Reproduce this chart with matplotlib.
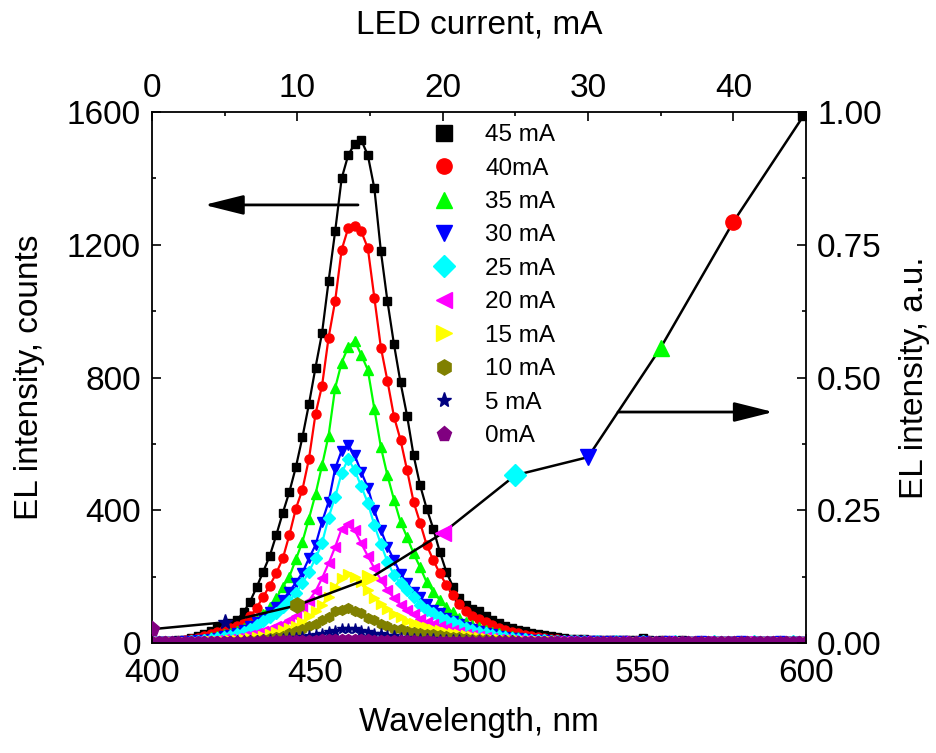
import numpy as np
import matplotlib
matplotlib.use("Agg")
import matplotlib.pyplot as plt
from matplotlib.lines import Line2D
from matplotlib.ticker import MultipleLocator

plt.rcParams['font.family'] = ['Liberation Sans', 'DejaVu Sans']

# ---------------- data ----------------
wavelength = np.arange(400, 601, 2)

s45 = [4, 5, 5, 6, 8, 10, 14, 20, 27, 36,
       45, 52, 60, 70, 92, 125, 168, 215, 262, 325,
       392, 455, 530, 620, 720, 830, 934, 1090, 1240, 1400,
       1470, 1505, 1515, 1470, 1370, 1180, 1030, 900, 785, 685,
       565, 475, 405, 345, 275, 215, 170, 135, 115, 103,
       95, 80, 69, 60, 52, 46, 40, 35, 30, 26,
       23, 20, 18, 15, 13, 12, 11, 10, 10, 9,
       9, 8, 8, 9, 8, 15, 8, 7, 8, 7,
       7, 8, 7, 6, 7, 7, 6, 7, 6, 6,
       7, 6, 6, 7, 6, 6, 5, 6, 6, 5,
       6]
s40 = [4, 4, 5, 6, 7, 9, 12, 16, 21, 28,
       34, 40, 46, 52, 60, 80, 106, 139, 173, 210,
       255, 325, 405, 462, 555, 690, 775, 920, 1030, 1185,
       1250, 1255, 1240, 1190, 1040, 890, 790, 682, 612, 521,
       425, 362, 295, 250, 210, 175, 145, 118, 95, 82,
       72, 62, 54, 46, 40, 34, 29, 25, 21, 18,
       15, 13, 12, 10, 9, 8, 8, 7, 7, 7,
       6, 6, 6, 7, 6, 6, 6, 5, 6, 6,
       5, 6, 5, 6, 5, 5, 6, 5, 5, 6,
       5, 5, 5, 6, 5, 5, 5, 5, 6, 5,
       5]
s35 = [3, 3, 4, 4, 5, 6, 8, 10, 13, 17,
       21, 26, 31, 37, 44, 55, 70, 88, 109, 135,
       169, 200, 252, 305, 375, 448, 535, 625, 768, 845,
       892, 910, 868, 823, 705, 590, 505, 432, 365, 319,
       270, 228, 183, 155, 130, 108, 92, 76, 63, 55,
       47, 40, 34, 29, 25, 21, 18, 15, 13, 11,
       10, 9, 8, 7, 7, 6, 6, 6, 5, 5,
       5, 5, 6, 5, 5, 5, 5, 5, 4, 5,
       5, 4, 5, 5, 4, 5, 4, 5, 4, 4,
       5, 4, 4, 5, 4, 4, 4, 5, 4, 4,
       4]
s30 = [3, 3, 3, 4, 4, 5, 6, 8, 10, 13,
       16, 20, 25, 30, 38, 50, 62, 76, 92, 108,
       130, 155, 182, 212, 255, 295, 365, 425, 525, 580,
       597, 565, 515, 468, 400, 340, 290, 250, 208, 180,
       155, 138, 118, 99, 90, 76, 65, 56, 48, 42,
       36, 31, 26, 22, 19, 16, 14, 12, 10, 9,
       8, 7, 6, 6, 5, 5, 5, 5, 5, 4,
       5, 4, 5, 4, 4, 5, 4, 4, 4, 5,
       4, 4, 4, 4, 5, 4, 4, 4, 4, 4,
       5, 4, 4, 4, 4, 4, 5, 4, 4, 4,
       4]
s25 = [3, 3, 3, 3, 4, 4, 5, 7, 9, 11,
       14, 17, 21, 27, 34, 43, 55, 66, 78, 90,
       108, 128, 150, 180, 215, 255, 301, 378, 440, 512,
       555, 520, 472, 422, 355, 298, 245, 205, 180, 160,
       140, 115, 100, 90, 78, 70, 62, 54, 46, 40,
       34, 29, 25, 21, 18, 15, 13, 11, 10, 9,
       8, 7, 6, 6, 5, 5, 5, 4, 5, 4,
       4, 5, 4, 4, 4, 5, 4, 4, 4, 4,
       5, 4, 4, 4, 4, 4, 5, 4, 4, 4,
       4, 4, 5, 4, 4, 4, 4, 4, 5, 4,
       4]
s20 = [2, 2, 3, 3, 3, 4, 4, 5, 6, 7,
       9, 11, 13, 16, 20, 25, 30, 36, 43, 50,
       58, 68, 82, 105, 128, 156, 195, 240, 289, 345,
       360, 340, 300, 262, 225, 190, 160, 135, 116, 99,
       86, 73, 64, 56, 50, 45, 39, 33, 28, 24,
       21, 18, 15, 13, 11, 10, 9, 8, 7, 6,
       6, 5, 5, 5, 5, 4, 5, 4, 4, 4,
       4, 4, 5, 4, 4, 4, 4, 4, 4, 5,
       4, 4, 4, 4, 4, 5, 4, 4, 4, 4,
       4, 5, 4, 4, 4, 4, 4, 4, 4, 4,
       4]
s15 = [2, 2, 2, 2, 3, 3, 3, 4, 4, 5,
       6, 7, 8, 10, 12, 15, 18, 22, 27, 32,
       38, 44, 52, 64, 80, 95, 115, 140, 170, 195,
       208, 200, 185, 160, 135, 118, 102, 88, 78, 67,
       59, 53, 48, 43, 39, 34, 30, 26, 23, 20,
       17, 15, 13, 11, 10, 9, 8, 7, 6, 6,
       5, 5, 5, 4, 4, 4, 4, 4, 4, 3,
       4, 4, 4, 4, 3, 4, 4, 4, 4, 3,
       4, 4, 3, 4, 4, 4, 4, 3, 4, 4,
       4, 3, 4, 4, 4, 4, 3, 4, 4, 4,
       4]
s10 = [2, 2, 2, 2, 2, 3, 3, 3, 3, 4,
       4, 4, 5, 6, 7, 9, 10, 12, 15, 18,
       22, 29, 36, 41, 51, 58, 70, 78, 95, 98,
       106, 97, 90, 76, 70, 56, 52, 43, 41, 35,
       34, 30, 28, 26, 24, 22, 19, 17, 15, 13,
       12, 11, 10, 9, 8, 8, 7, 6, 6, 6,
       5, 5, 5, 4, 4, 4, 4, 4, 4, 4,
       4, 4, 4, 3, 4, 4, 4, 4, 3, 4,
       4, 4, 4, 4, 3, 4, 4, 4, 4, 4,
       3, 4, 4, 4, 4, 3, 4, 4, 4, 4,
       4]
s5 = [2, 2, 2, 2, 2, 2, 3, 3, 3, 3,
      3, 4, 4, 5, 5, 6, 6, 8, 8, 10,
      11, 14, 15, 19, 20, 25, 27, 33, 35, 41,
      42, 41, 35, 33, 27, 26, 21, 20, 16, 16,
      13, 13, 11, 11, 9, 9, 8, 8, 7, 7,
      6, 6, 5, 5, 5, 5, 4, 4, 4, 4,
      4, 4, 4, 3, 4, 3, 4, 3, 4, 3,
      4, 3, 3, 4, 3, 3, 4, 3, 3, 3,
      4, 3, 3, 3, 4, 3, 3, 3, 3, 4,
      3, 3, 3, 4, 3, 3, 3, 3, 3, 4,
      3]
s0 = [6, 7, 6, 7, 6, 7, 6, 7, 7, 6,
      7, 6, 7, 7, 6, 7, 7, 8, 7, 8,
      8, 8, 9, 9, 10, 10, 11, 11, 12, 12,
      12, 12, 11, 11, 10, 10, 9, 9, 8, 8,
      8, 7, 8, 7, 7, 7, 6, 7, 7, 6,
      7, 6, 7, 6, 6, 7, 6, 6, 7, 6,
      6, 7, 6, 6, 7, 6, 6, 6, 7, 6,
      6, 6, 7, 6, 6, 6, 7, 6, 6, 6,
      7, 6, 6, 6, 6, 7, 6, 6, 6, 7,
      6, 6, 6, 7, 6, 6, 6, 6, 7, 6,
      6]

labels = ['45 mA', '40mA', '35 mA', '30 mA', '25 mA',
          '20 mA', '15 mA', '10 mA', '5 mA', '0mA']
spectra = [s45, s40, s35, s30, s25, s20, s15, s10, s5, s0]

currents = [0, 5, 10, 15, 20, 25, 30, 35, 40, 45]
norm_intensity = [0.026, 0.039, 0.071, 0.122, 0.207, 0.316, 0.350, 0.556, 0.793, 1.0]

# ---------------- styles ----------------
colors = ['#000000', '#FF0000', '#00FF00', '#0000FF', '#00FFFF',
          '#FF00FF', '#FFFF00', '#808000', '#000080', '#800080']
markers = ['s', 'o', '^', 'v', 'D', '<', '>', 'h', '*', 'p']
spec_ms = [6, 6.5, 7, 7, 6, 7, 7, 7, 8, 7]

fig = plt.figure(figsize=(9.37, 7.53), dpi=100)
pos = [152 / 937, 1 - 643 / 753, (806 - 152) / 937, (643 - 112) / 753]
ax = fig.add_axes(pos)

for y, c, m, ms in zip(spectra, colors, markers, spec_ms):
    ax.plot(wavelength, y, color=c, marker=m, ms=ms, mec=c, mfc=c, lw=1.6)

ax.set_xlim(400, 600)
ax.set_ylim(0, 1600)
ax.xaxis.set_major_locator(MultipleLocator(50))
ax.xaxis.set_minor_locator(MultipleLocator(25))
ax.yaxis.set_major_locator(MultipleLocator(400))
ax.yaxis.set_minor_locator(MultipleLocator(200))
ax.tick_params(which='both', direction='in', width=1.2, top=False, right=False)
ax.tick_params(which='major', length=6.5, labelsize=24)
ax.tick_params(which='minor', length=3)
ax.tick_params(axis='x', pad=11)
ax.tick_params(axis='y', pad=8)
ax.set_xlabel('Wavelength, nm', fontsize=24, labelpad=13)
ax.set_ylabel('EL intensity, counts', fontsize=24, labelpad=16)
for sp in ax.spines.values():
    sp.set_linewidth(1.3)

# arrows
left_arrow = dict(start=(463, 1320), end=(416, 1320))
right_arrow = dict(start=(542.5, 696), end=(590, 696))
for a in (left_arrow, right_arrow):
    ax.annotate('', xy=a['end'], xytext=a['start'],
                arrowprops=dict(arrowstyle='-|>,head_length=1.2,head_width=0.3',
                                color='k', lw=2, mutation_scale=20,
                                shrinkA=0, shrinkB=0))

handles = [Line2D([], [], ls='none', marker=m, color=c, mec=c, ms=11)
           for c, m in zip(colors, markers)]
ax.legend(handles, labels, loc='upper left', bbox_to_anchor=(0.409, 1.0),
          frameon=False, fontsize=17.5, handlelength=1.0, handletextpad=1.2,
          labelspacing=0.47, borderaxespad=0.1)

# second axes: LED current / normalised intensity
ax2 = fig.add_axes(pos, frameon=False)
ax2.plot(currents, norm_intensity, color='k', lw=1.8, zorder=2)
for x, y, c, m in zip(currents, norm_intensity, colors[::-1], markers[::-1]):
    ax2.plot([x], [y], ls='none', marker=m, color=c, mec=c, ms=11, zorder=3)
ax2.set_xlim(0, 45)
ax2.set_ylim(0, 1.0)
ax2.xaxis.tick_top()
ax2.xaxis.set_label_position('top')
ax2.yaxis.tick_right()
ax2.yaxis.set_label_position('right')
ax2.xaxis.set_major_locator(MultipleLocator(10))
ax2.xaxis.set_minor_locator(MultipleLocator(5))
ax2.yaxis.set_major_locator(MultipleLocator(0.25))
ax2.yaxis.set_minor_locator(MultipleLocator(0.125))
ax2.yaxis.set_major_formatter(matplotlib.ticker.FormatStrFormatter('%.2f'))
ax2.tick_params(which='both', direction='in', width=1.2, bottom=False, left=False)
ax2.tick_params(which='major', length=6.5, labelsize=24, pad=6)
ax2.tick_params(which='minor', length=3)
ax2.tick_params(axis='y', pad=8)
ax2.set_xlabel('LED current, mA', fontsize=24, labelpad=28)
ax2.set_ylabel('EL intensity, a.u.', fontsize=24, labelpad=12)

fig.savefig('out.png', dpi=100)
